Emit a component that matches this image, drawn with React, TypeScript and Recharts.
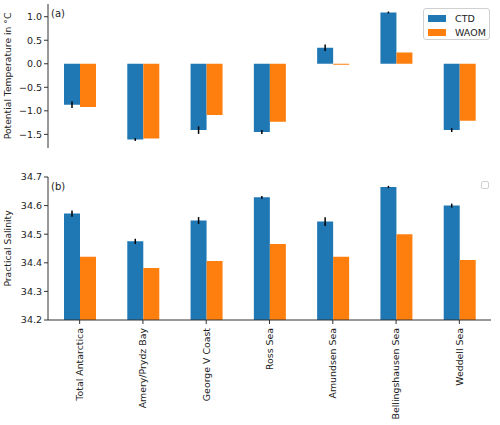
import React from "react";
import { BarChart, Bar, XAxis, YAxis, ErrorBar, ReferenceArea, Legend } from "recharts";

const categories = [
  "Total Antarctica",
  "Amery/Prydz Bay",
  "George V Coast",
  "Ross Sea",
  "Amundsen Sea",
  "Bellingshausen Sea",
  "Weddell Sea",
];

const ctdTemp = [-0.87, -1.61, -1.41, -1.45, 0.34, 1.09, -1.41];
const ctdTempErr = [0.07, 0.03, 0.08, 0.04, 0.07, 0.02, 0.04];
const waomTemp = [-0.92, -1.59, -1.09, -1.23, -0.02, 0.24, -1.21];

const ctdSal = [34.572, 34.475, 34.548, 34.629, 34.544, 34.665, 34.6];
const ctdSalErr = [0.011, 0.009, 0.012, 0.005, 0.015, 0.004, 0.007];
const waomSal = [34.421, 34.382, 34.406, 34.466, 34.421, 34.5, 34.41];

const tempTicks = [-1.5, -1.0, -0.5, 0.0, 0.5, 1.0];
const salTicks = [34.2, 34.3, 34.4, 34.5, 34.6, 34.7];

const BLUE = "#1f77b4";
const ORANGE = "#ff7f0e";
const AXIS = "#333";
const FONT = "DejaVu Sans";

const tempData = categories.map((name, i) => ({
  name,
  ctd: ctdTemp[i],
  ctdErr: ctdTempErr[i],
  waom: waomTemp[i],
}));

const salData = categories.map((name, i) => ({
  name,
  ctd: ctdSal[i],
  ctdErr: ctdSalErr[i],
  waom: waomSal[i],
}));

const fmtTemp = (v: number) => (v < 0 ? "\u2212" : "") + Math.abs(v).toFixed(1);

const tickStyle = { fontSize: 9.5, fill: "#222", fontFamily: FONT };

const RotatedTick = ({ x, y, payload }: any) => (
  <g transform={`translate(${x},${y})`}>
    <text
      transform="rotate(-90)"
      textAnchor="end"
      dy="0.35em"
      x={-2}
      fontSize={9.4}
      fontFamily={FONT}
      fill="#222"
    >
      {payload.value}
    </text>
  </g>
);

const yLabel = (text: string) => (props: any) => {
  const vb = props.viewBox;
  const cx = 11;
  const cy = vb.y + vb.height / 2;
  return (
    <text
      x={cx}
      y={cy}
      transform={`rotate(-90, ${cx}, ${cy})`}
      textAnchor="middle"
      fontSize={9.2}
      fontFamily={FONT}
      fill="#222"
    >
      {text}
    </text>
  );
};

const LegendBox = ({ payload }: any) => (
  <div
    style={{
      position: "absolute",
      left: 0,
      top: 0,
      width: 67,
      height: 32,
      border: "1px solid #d0d0d0",
      borderRadius: 3,
      background: "#fff",
      boxSizing: "border-box",
      fontFamily: FONT,
      fontSize: 9.5,
      color: "#222",
    }}
  >
    {(payload || []).map((p: any, i: number) => (
      <div
        key={p.value}
        style={{ position: "absolute", left: 4, top: 4 + i * 14, display: "flex", alignItems: "center", whiteSpace: "nowrap" }}
      >
        <span style={{ display: "inline-block", width: 18, height: 7, background: p.color, marginRight: 9 }} />
        <span>{p.value}</span>
      </div>
    ))}
  </div>
);

const EmptyLegend = () => (
  <div
    style={{
      position: "absolute",
      left: 0,
      top: 0,
      width: 8,
      height: 8,
      border: "1px solid #d0d0d0",
      borderRadius: 2,
      background: "#fff",
      boxSizing: "border-box",
    }}
  />
);

export default function App() {
  return (
    <div style={{ position: "absolute", left: 0, top: 0, width: 500, height: 425, background: "#fff" }}>
      <BarChart
        width={500}
        height={160}
        data={tempData}
        margin={{ top: 4, right: 9, left: 0, bottom: 12 }}
        barGap={0}
        barSize={16}
      >
        <XAxis dataKey="name" tick={false} tickLine={false} height={0} axisLine={{ stroke: AXIS }} />
        <YAxis
          width={48}
          domain={[-1.79, 1.27]}
          ticks={tempTicks}
          tickFormatter={fmtTemp}
          tick={tickStyle}
          tickSize={4}
          tickLine={{ stroke: AXIS }}
          axisLine={{ stroke: AXIS }}
          allowDataOverflow
          label={{ content: yLabel("Potential Temperature in \u00b0C") }}
        />
        <ReferenceArea fill="none" stroke={AXIS} strokeWidth={1} ifOverflow="visible" />
        <Legend
          content={<LegendBox />}
          wrapperStyle={{ left: 423, top: 8, width: 0, height: 0 }}
        />
        <Bar dataKey="ctd" name="CTD" fill={BLUE} isAnimationActive={false}>
          <ErrorBar dataKey="ctdErr" width={0} stroke="#000" strokeWidth={1.5} direction="y" />
        </Bar>
        <Bar dataKey="waom" name="WAOM" fill={ORANGE} isAnimationActive={false} />
        <text x={51} y={17} fontSize={10} fontFamily={FONT} fill="#222">(a)</text>
      </BarChart>

      <div style={{ position: "absolute", left: 0, top: 160 }}>
        <BarChart
          width={500}
          height={265}
          data={salData}
          margin={{ top: 17, right: 9, left: 0, bottom: 0 }}
          barGap={0}
          barSize={16}
        >
          <XAxis
            dataKey="name"
            height={105}
            interval={0}
            tick={<RotatedTick />}
            tickSize={4}
            tickLine={{ stroke: AXIS }}
            axisLine={{ stroke: AXIS }}
          />
          <YAxis
            width={48}
            domain={[34.2, 34.7]}
            ticks={salTicks}
            tickFormatter={(v: number) => v.toFixed(1)}
            tick={tickStyle}
            tickSize={4}
            tickLine={{ stroke: AXIS }}
            axisLine={{ stroke: AXIS }}
            allowDataOverflow
            label={{ content: yLabel("Practical Salinity") }}
          />
          <ReferenceArea fill="none" stroke={AXIS} strokeWidth={1} ifOverflow="visible" />
          <Legend content={<EmptyLegend />} wrapperStyle={{ left: 481, top: 21, width: 0, height: 0 }} />
          <Bar dataKey="ctd" name="CTD" fill={BLUE} isAnimationActive={false} legendType="none">
            <ErrorBar dataKey="ctdErr" width={0} stroke="#000" strokeWidth={1.5} direction="y" />
          </Bar>
          <Bar dataKey="waom" name="WAOM" fill={ORANGE} isAnimationActive={false} legendType="none" />
          <text x={51} y={30} fontSize={10} fontFamily={FONT} fill="#222">(b)</text>
        </BarChart>
      </div>
    </div>
  );
}
